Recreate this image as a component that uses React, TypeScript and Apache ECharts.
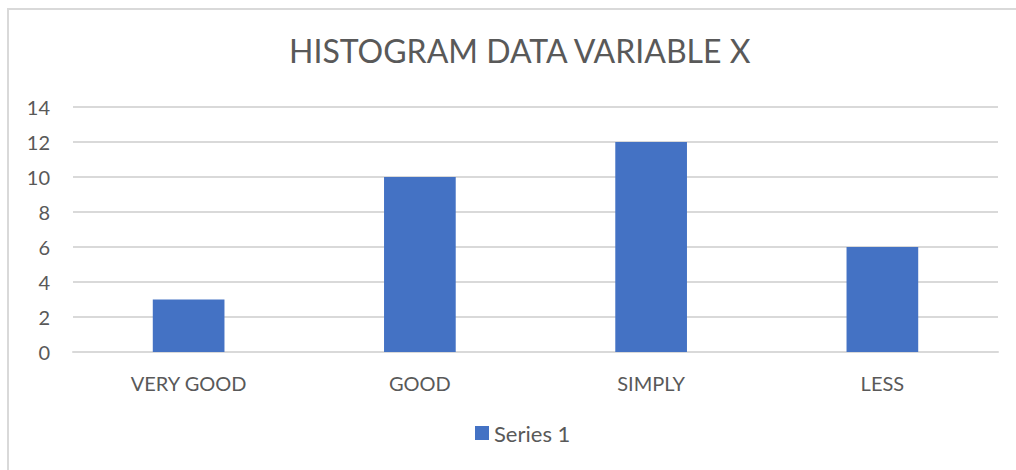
import React, { useEffect, useRef } from "react";
import * as echarts from "echarts";

const categories = ["VERY GOOD", "GOOD", "SIMPLY", "LESS"];
const series1 = [3, 10, 12, 6];
const yTicks = { min: 0, max: 14, interval: 2 };

export default function App() {
  const ref = useRef<HTMLDivElement>(null);
  useEffect(() => {
    if (!ref.current) return;
    const chart = echarts.init(ref.current, null, { renderer: "svg" });
    const font = "Lato, 'Open Sans', sans-serif";
    chart.setOption({
      animation: false,
      textStyle: { fontFamily: font },
      title: {
        text: "HISTOGRAM DATA VARIABLE X",
        left: 289,
        top: 34,
        padding: 0,
        textStyle: { fontFamily: font, fontSize: 32, fontWeight: "normal", color: "#595959" },
      },
      graphic: [
        {
          type: "rect",
          shape: { x: 8, y: 9, width: 1100, height: 600 },
          style: { fill: "none", stroke: "#d9d9d9", lineWidth: 2 },
          silent: true,
        },
      ],
      legend: {
        bottom: 21,
        left: 470,
        itemWidth: 14,
        itemHeight: 14,
        icon: "rect",
        itemGap: 6,
        textStyle: { fontFamily: font, fontSize: 22, color: "#595959" },
        data: ["Series 1"],
      },
      grid: { left: 73, right: 18, top: 107, bottom: 118, containLabel: false },
      xAxis: {
        type: "category",
        data: categories,
        axisLine: { lineStyle: { color: "#d9d9d9", width: 2 } },
        axisTick: { show: false },
        axisLabel: { color: "#595959", fontSize: 20, fontFamily: font, margin: 21 },
      },
      yAxis: {
        type: "value",
        min: yTicks.min,
        max: yTicks.max,
        interval: yTicks.interval,
        axisLine: { show: false },
        axisTick: { show: false },
        splitLine: { lineStyle: { color: "#d9d9d9", width: 2 } },
        axisLabel: { color: "#595959", fontSize: 20, fontFamily: font, margin: 23 },
      },
      series: [
        {
          name: "Series 1",
          type: "bar",
          data: series1,
          barWidth: "31%",
          itemStyle: { color: "#4472c4" },
        },
      ],
    });
    return () => chart.dispose();
  }, []);
  return (
    <div
      ref={ref}
      style={{ position: "absolute", left: 0, top: 0, width: 1016, height: 470, background: "#fff" }}
    />
  );
}
